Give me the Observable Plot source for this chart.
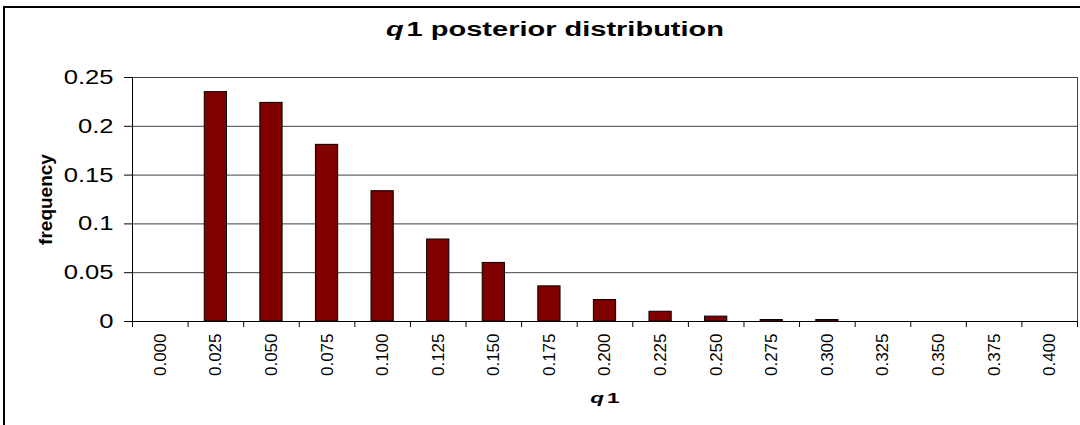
<!DOCTYPE html>
<html>
<head>
<meta charset="utf-8">
<script src="https://cdn.jsdelivr.net/npm/d3@7"></script>
<script src="https://cdn.jsdelivr.net/npm/@observablehq/plot@0.6"></script>
<style>
  body { margin: 0; background: #fff; font-family: "Liberation Sans", Arial, sans-serif; }
  #chart { position: relative; width: 1080px; height: 425px; overflow: hidden; }
  #chart svg { position: absolute; left: 0; top: 0; }
  .border { position: absolute; left: 3px; top: 6px; width: 1200px; height: 500px; border: 2px solid #000; }
  .title { position: absolute; left: 355px; top: 19px; width: 400px; text-align: center;
           font-weight: bold; font-size: 20px; line-height: 20px; transform: scaleX(1.45); white-space: nowrap; }
  .xlabel { position: absolute; left: 555px; top: 390px; width: 100px; text-align: center;
            font-weight: bold; font-size: 15px; line-height: 15px; transform: scaleX(1.5); white-space: nowrap; }
  i { margin-right: 2px; }
</style>
</head>
<body>
<div id="chart">
  <div class="border"></div>
  <div class="title"><i>q</i>1 posterior distribution</div>
  <div class="xlabel"><i>q</i>1</div>
</div>
<script>
const categories = ["0.000", "0.025", "0.050", "0.075", "0.100", "0.125", "0.150", "0.175", "0.200",
  "0.225", "0.250", "0.275", "0.300", "0.325", "0.350", "0.375", "0.400"];
const frequency = [0, 0.235, 0.224, 0.181, 0.1335, 0.084, 0.060, 0.036, 0.022,
  0.010, 0.005, 0.0015, 0.0015, 0, 0, 0, 0];
const yTicks = [0, 0.05, 0.1, 0.15, 0.2, 0.25];

const data = categories.map((q, i) => ({q, f: frequency[i]}));

const width = 1080, marginLeft = 132, marginRight = 3;
const step = (width - marginLeft - marginRight) / categories.length;

const chart = Plot.plot({
  width,
  height: 425,
  marginLeft,
  marginRight,
  marginTop: 77,
  marginBottom: 104,
  style: { fontFamily: "Liberation Sans, Arial, sans-serif", background: "transparent", color: "#000" },
  x: { domain: categories, paddingInner: 0.6, paddingOuter: 0.3, round: false },
  y: { domain: [0, 0.25] },
  marks: [
    Plot.gridY(yTicks, { stroke: "#404040", strokeOpacity: 1 }),
    Plot.frame({ stroke: "#404040" }),
    Plot.barY(data, { x: "q", y: "f", fill: "#800000", stroke: "#000", strokeWidth: 1 }),
    Plot.ruleY([0], { stroke: "#000" }),
    Plot.ruleX(categories.slice(0, 1), { dx: -step / 2, y1: 0, y2: 0.25, stroke: "#000" }),
    Plot.axisY(yTicks, { tickSize: 8, tickPadding: 11, tickFormat: (d) => String(d), fontSize: 20, label: null }),
    // excel puts the tick marks between categories
    Plot.axisX(categories, { tickSize: 6, tickFormat: () => "", dx: -step / 2, label: null }),
    Plot.axisX(categories.slice(-1), { tickSize: 6, tickFormat: () => "", dx: step / 2, label: null }),
    Plot.axisX(categories, { tickSize: 0, tickPadding: 12, tickRotate: -90, fontSize: 17, label: null }),
    Plot.text(["frequency"], { frameAnchor: "left", dx: -87, rotate: -90, textAnchor: "middle",
      fontWeight: "bold", fontSize: 19 })
  ]
});

// the original's y tick labels are drawn wide
d3.select(chart).selectAll("g[aria-label='y-axis tick label'] text")
  .attr("transform", function () { return this.getAttribute("transform") + " scale(1.28,1)"; });

document.getElementById("chart").prepend(chart);
</script>
</body>
</html>
